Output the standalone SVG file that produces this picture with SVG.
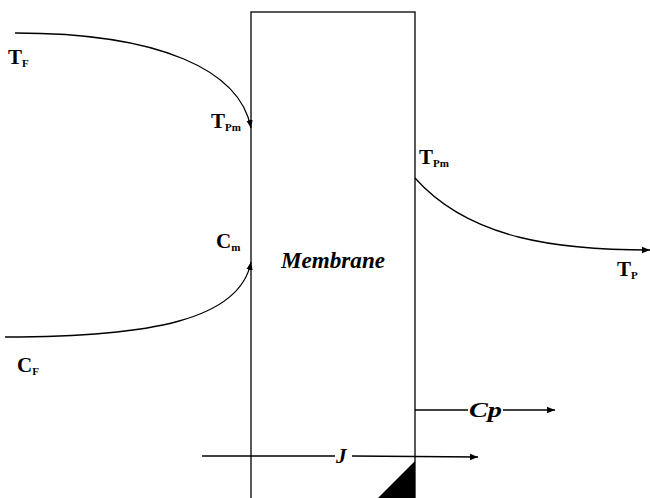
<svg xmlns="http://www.w3.org/2000/svg" width="650" height="498" viewBox="0 0 650 498">
<defs>
<marker id="ah" viewBox="0 0 10 10" refX="10" refY="5" markerWidth="8" markerHeight="8" markerUnits="userSpaceOnUse" orient="auto"><path d="M0,1 L10,5 L0,9 Z" fill="#000"/></marker>
</defs>
<style>
.ln{fill:none;stroke:#000;stroke-width:1.3}
.lb{font-family:"Liberation Serif",serif;font-weight:bold;fill:#000}
.big{font-size:21px}
.sub{font-size:11px}
.it{font-style:italic}
</style>
<rect x="0" y="0" width="650" height="498" fill="#fff"/>
<g id="membrane">
<rect x="251" y="12" width="164" height="500" class="ln"/>
<text x="333" y="268" class="lb it" font-size="23" text-anchor="middle" textLength="104" lengthAdjust="spacingAndGlyphs">Membrane</text>
<path d="M378,498 L415,498 L415,461 Z" fill="#000"/>
</g>
<g id="connectors">
<path class="ln" d="M15,33 C160,33 240,70 251,128" marker-end="url(#ah)"/>
<path class="ln" d="M5,337 C150,337 240,320 251,262" marker-end="url(#ah)"/>
<path class="ln" d="M415,178 C470,240 560,250 650,250" marker-end="url(#ah)"/>
<line class="ln" x1="415" y1="410" x2="468" y2="410"/>
<line class="ln" x1="503" y1="410" x2="555" y2="410" marker-end="url(#ah)"/>
<line class="ln" x1="202" y1="456" x2="335" y2="456"/>
<line class="ln" x1="352" y1="456" x2="478" y2="457" marker-end="url(#ah)"/>
</g>
<g id="labels">
<text x="8" y="64" class="lb big">T<tspan class="sub" dy="3">F</tspan></text>
<text x="211" y="128" class="lb big">T<tspan class="sub" dy="3">Pm</tspan></text>
<text x="419" y="164" class="lb big">T<tspan class="sub" dy="3">Pm</tspan></text>
<text x="216" y="248" class="lb big">C<tspan class="sub" dy="3">m</tspan></text>
<text x="617" y="276" class="lb big">T<tspan class="sub" dy="3">P</tspan></text>
<text x="17" y="372" class="lb big">C<tspan class="sub" dy="3">F</tspan></text>
<text x="469" y="417" class="lb it" font-size="22" textLength="33" lengthAdjust="spacingAndGlyphs">Cp</text>
<text x="336" y="463" class="lb big it">J</text>
</g>
</svg>
